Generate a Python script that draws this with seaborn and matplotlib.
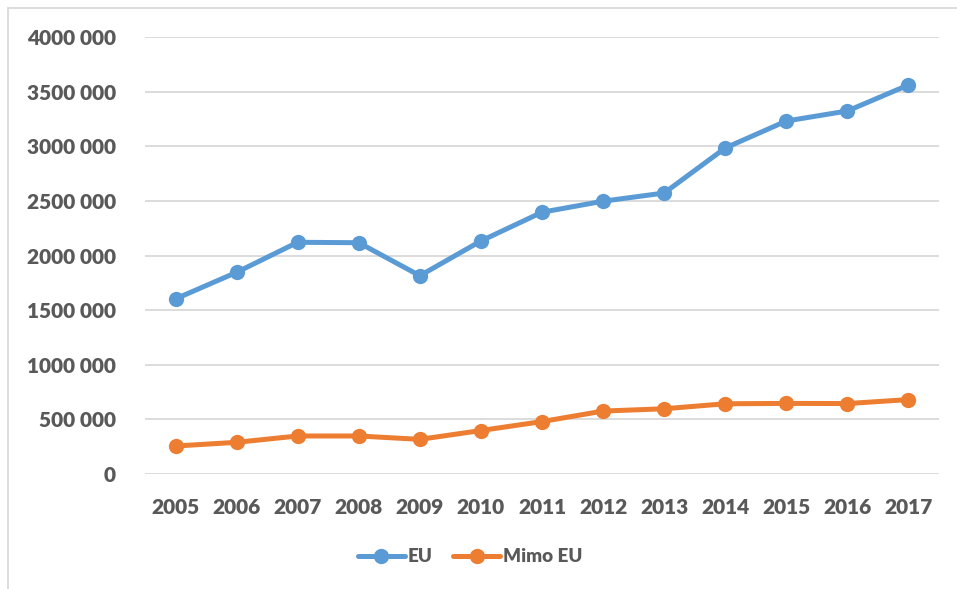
import matplotlib
matplotlib.use("Agg")
import matplotlib.pyplot as plt
from matplotlib.lines import Line2D
from matplotlib.ticker import FuncFormatter
import seaborn as sns
import pandas as pd

years = [2005, 2006, 2007, 2008, 2009, 2010, 2011, 2012, 2013, 2014, 2015, 2016, 2017]
eu = [1603000, 1846000, 2121000, 2117000, 1815000, 2133000, 2396000, 2497000, 2572000,
      2984000, 3231000, 3323000, 3561000]
mimo_eu = [256000, 290000, 348000, 348000, 317000, 398000, 480000, 576000, 597000,
           643000, 646000, 645000, 681000]
series_names = ["EU", "Mimo EU"]
y_ticks = [0, 500000, 1000000, 1500000, 2000000, 2500000, 3000000, 3500000, 4000000]

colors = ["#5B9BD5", "#ED7D31"]
text_color = "#595959"
grid_color = "#D9D9D9"

sns.set_theme(style="white")
plt.rcParams['font.family'] = ['Lato', 'DejaVu Sans']

df = pd.DataFrame({
    "year": years * 2,
    "value": eu + mimo_eu,
    "series": [series_names[0]] * len(years) + [series_names[1]] * len(years),
})

fig = plt.figure(figsize=(9.57, 5.89), dpi=100)
ax = fig.add_axes([145 / 957, 1 - 474 / 589, (939 - 145) / 957, (474 - 37) / 589])

sns.lineplot(data=df, x="year", y="value", hue="series", palette=colors,
             marker="o", markersize=11, markeredgewidth=0, linewidth=3.6,
             ax=ax, legend=True)

ax.set_xlim(years[0] - 0.5, years[-1] + 0.5)
ax.set_ylim(0, 4000000)
ax.set_xticks(years)
ax.set_yticks(y_ticks)

def fmt(v, pos):
    v = int(round(v))
    if v == 0:
        return "0"
    s = f"{v:d}"
    return s[:-3] + " " + s[-3:]

ax.yaxis.set_major_formatter(FuncFormatter(fmt))
ax.set_xlabel("")
ax.set_ylabel("")
for s in ax.spines.values():
    s.set_visible(False)
ax.yaxis.grid(True, color=grid_color, linewidth=1.3)
ax.set_axisbelow(True)
ax.tick_params(axis="y", length=0, pad=21, labelsize=15, labelcolor=text_color)
ax.tick_params(axis="x", length=0, pad=17, labelsize=15, labelcolor=text_color)
for lab in ax.get_xticklabels() + ax.get_yticklabels():
    lab.set_fontweight("heavy")

handles, labels = ax.get_legend_handles_labels()
ax.get_legend().remove()
leg = fig.legend(handles, labels, loc="center", bbox_to_anchor=(470 / 957, 1 - 557 / 589),
                 ncol=2, frameon=False, handlelength=2.5, handletextpad=0.15,
                 columnspacing=1.1, prop={"weight": "heavy", "size": 13.5})
for t in leg.get_texts():
    t.set_color(text_color)

# outer chart-area border (top and left visible)
fig.add_artist(Line2D([8 / 957, 1.0], [1 - 8 / 589, 1 - 8 / 589], color=grid_color,
                      linewidth=1.3, transform=fig.transFigure))
fig.add_artist(Line2D([8 / 957, 8 / 957], [0.0, 1 - 8 / 589], color=grid_color,
                      linewidth=1.3, transform=fig.transFigure))

fig.savefig("out.png", dpi=100, facecolor="white")
